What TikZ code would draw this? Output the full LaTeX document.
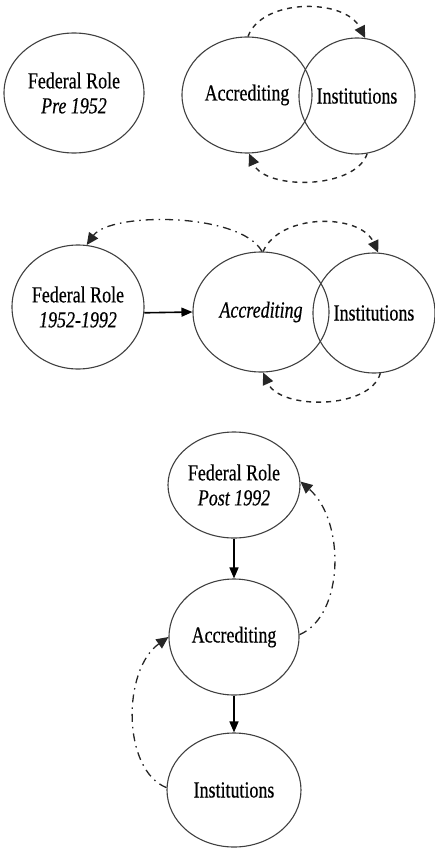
\documentclass[tikz,border=0pt]{standalone}
\usepackage{fontspec}
\setmainfont{Liberation Serif}
\newfontfamily\cond{Liberation Serif}[FakeStretch=0.78,FakeBold=0.4]
\usetikzlibrary{shapes.geometric,arrows.meta}
\begin{document}
\begin{tikzpicture}[x=1pt,y=-1pt,
  bub/.style={ellipse,draw=black!75,line width=1.1pt,inner sep=0pt,align=center,
    font=\cond\fontsize{23}{25}\selectfont},
  solidarr/.style={line width=1.6pt,-{Triangle[length=11pt,width=9pt]}},
  dasharr/.style={line width=1.4pt,black!85,dash pattern=on 5pt off 5pt,-{Triangle[length=12pt,width=11pt]}},
  dotarr/.style={line width=1.3pt,black!85,dash pattern=on 8pt off 5pt on 1.5pt off 5pt,-{Triangle[length=12pt,width=11pt]}}]
\useasboundingbox (0,0) rectangle (435,848);
% section 1
\node[bub,minimum width=140pt,minimum height=120pt] (fr1) at (74,93) {Federal Role\\\textit{Pre 1952}};
\node[bub,minimum width=130pt,minimum height=116pt] (acc1) at (247,95) {Accrediting};
\node[bub,minimum width=116pt,minimum height=116pt] (inst1) at (357,96) {Institutions};
\draw[dasharr] (acc1.89) .. controls (262,-2) and (345,-2) .. (inst1.82);
\draw[dasharr] (inst1.-80) .. controls (355,190) and (265,190) .. (acc1.-88);
% section 2
\node[bub,minimum width=132pt,minimum height=124pt] (fr2) at (78,307) {Federal Role\\\textit{1952-1992}};
\node[bub,minimum width=136pt,minimum height=120pt] (acc2) at (261,312) {\textit{Accrediting}};
\node[bub,minimum width=122pt,minimum height=120pt] (inst2) at (374,313) {Institutions};
\draw[solidarr] (fr2.-5) -- (acc2.west);
\draw[dotarr] (acc2.89) .. controls (240,212) and (110,212) .. (fr2.82);
\draw[dasharr] (acc2.88) .. controls (280,213) and (360,213) .. (inst2.86);
\draw[dasharr] (inst2.-84) .. controls (370,410) and (280,410) .. (acc2.-88);
% section 3
\node[bub,minimum width=132pt,minimum height=106pt] (fr3) at (234,485) {Federal Role\\\textit{Post 1992}};
\node[bub,minimum width=130pt,minimum height=116pt] (acc3) at (234,637) {Accrediting};
\node[bub,minimum width=134pt,minimum height=114pt] (inst3) at (234,790) {Institutions};
\draw[solidarr] (fr3.south) -- (acc3.north);
\draw[solidarr] (acc3.south) -- (inst3.north);
\draw[dotarr] (acc3.2) .. controls (345,615) and (345,520) .. (fr3.3);
\draw[dotarr] (inst3.178) .. controls (122,770) and (122,670) .. (acc3.180);
\end{tikzpicture}
\end{document}
